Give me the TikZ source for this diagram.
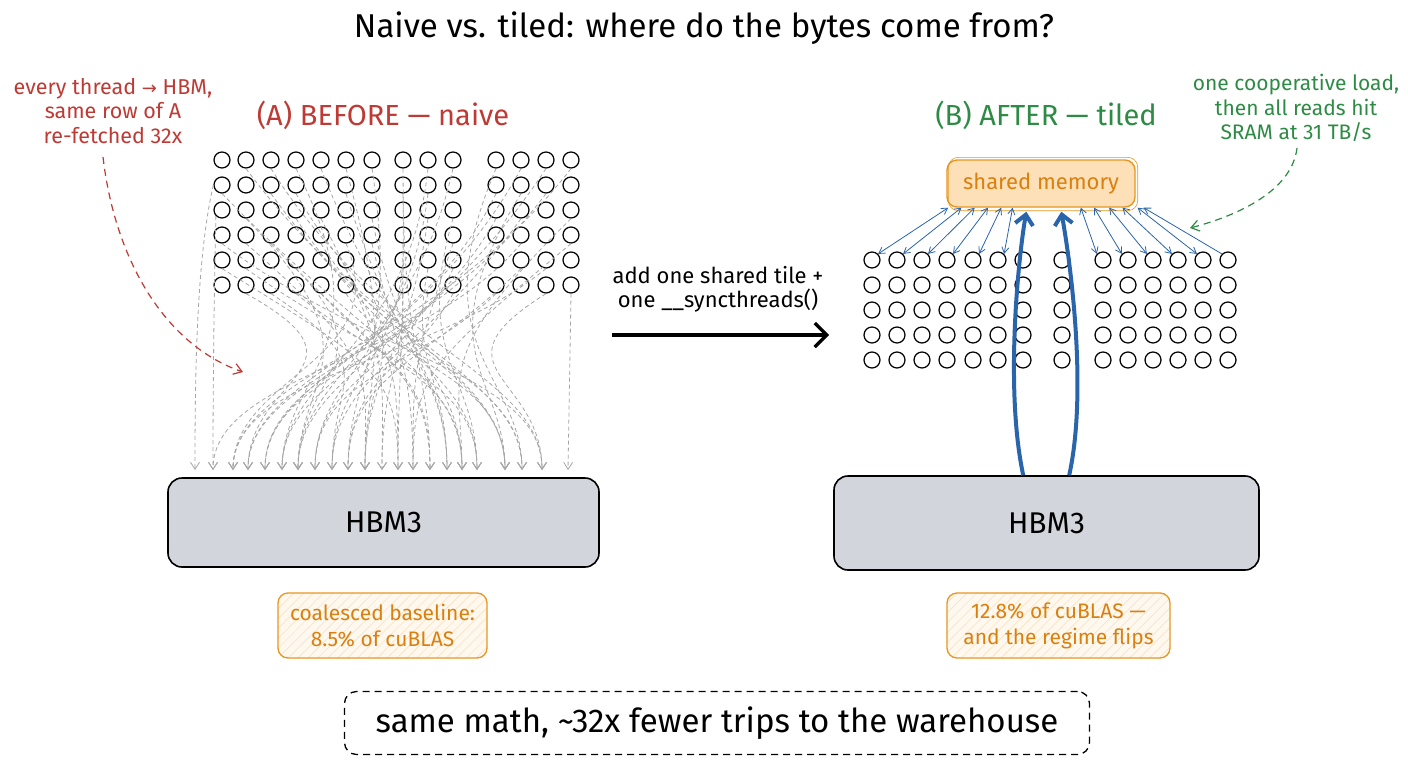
\documentclass[tikz,border=0pt]{standalone}
\usepackage{fontspec}
\setmainfont{Fira Sans}
\newfontfamily\symfont{DejaVu Sans}
\usetikzlibrary{arrows.meta,calc,patterns.meta}
\definecolor{cred}{HTML}{BE3A34}
\definecolor{cgreen}{HTML}{2E8B45}
\definecolor{corange}{HTML}{D9800F}
\definecolor{oline}{HTML}{E8961F}
\definecolor{smfill}{HTML}{FDE0B8}
\definecolor{obfill}{HTML}{FFF8EE}
\definecolor{cblue}{HTML}{2A64AA}
\definecolor{hbmfill}{HTML}{D2D6DC}
\tikzset{
  circ/.style={circle,draw=black,line width=1.25pt,minimum size=16pt,inner sep=0pt,fill=white},
  gdash/.style={draw=gray!70,line width=0.8pt,dash pattern=on 4pt off 3pt,
    -{Straight Barb[length=7pt,width=9pt]}},
  hbm/.style={draw=black,line width=1.6pt,fill=hbmfill,rounded corners=14pt,font=\fontsize{30}{36}\selectfont},
  obox/.style={draw=oline,line width=1.3pt,rounded corners=10pt,preaction={fill=obfill},
    pattern={Lines[angle=45,distance=7pt,line width=0.5pt]},pattern color=oline!30,
    text=corange,align=center,font=\fontsize{21}{26}\selectfont},
  thinblue/.style={draw=cblue,line width=0.8pt,{Straight Barb[length=6pt,width=7pt]}-{Straight Barb[length=6pt,width=7pt]}},
  bigblue/.style={draw=cblue,line width=4pt,-{Straight Barb[length=10pt,width=18pt]}},
}
\begin{document}
\begin{tikzpicture}[x=1pt,y=-1pt]
\useasboundingbox (0,0) rectangle (1408,768);
\fill[white] (0,0) rectangle (1408,768);

% title
\node[font=\fontsize{33}{40}\selectfont] (title) at (704,28) {Naive vs. tiled: where do the bytes come from?};

% left side
\node[text=cred,font=\fontsize{29}{34}\selectfont] (hA) at (383,115) {(A) BEFORE — naive};
\node[text=cred,align=center,font=\fontsize{21.5}{24.5}\selectfont] (ra) at (113,111)
  {every thread {\symfont\fontsize{18}{20}\selectfont →} HBM,\\same row of A\\re-fetched 32x};

\foreach \x [count=\c] in {222,246,271,296,321,346,372,403,428,453,496,521,546,571}
  \foreach \y [count=\r] in {160,185,210,235,260,285}
    \node[circ] (L-\c-\r) at (\x,\y) {};

\foreach \t in {195,213,233,248,265,282,298,315,332,348,365,382,398,413,430,447,462,477,505,522,542,568}
  \coordinate (T\t) at (\t,470);

\foreach \c/\r/\t in {14/1/233,13/2/248,12/1/265,11/3/282,10/1/298,9/2/315,8/4/332,7/1/348,
  6/2/447,5/1/462,4/3/477,3/2/505,2/1/522,1/4/542,
  13/5/233,12/4/213,10/5/265,9/3/365,8/6/382,7/4/413,6/5/398,5/6/430,4/5/298,3/6/332,2/4/365,
  11/6/315,12/5/348,14/4/413,1/2/462,3/4/430,5/3/382,6/6/505,8/1/398,9/5/447,10/3/477,
  11/1/522,13/6/542,4/1/282,2/6/248,7/6/365,12/2/505,2/3/298,
  14/3/462,13/1/298,12/3/332,11/2/248,10/4/413,9/1/282,8/2/430,7/3/447,6/1/365,5/4/522,
  4/2/505,3/1/542,2/5/477,1/5/398,10/6/348,9/6/315,4/6/462,6/4/233,8/5/265}
  \draw[gdash] (L-\c-\r.south) .. controls ($(L-\c-\r.south)!0.85!(405,382)$) and ($(T\t)+(0,-95)$) .. (T\t);
\draw[gdash] (L-1-2.west) .. controls (196,260) and (195,380) .. (T195);
\draw[gdash] (L-1-3.south west) .. controls (214,300) and (213,380) .. (T213);
\draw[gdash] (L-14-6.south) -- (T568);

\coordinate (ra-s) at (103,157);
\coordinate (ra-e) at (243,372);
\draw[cred,line width=1.2pt,dash pattern=on 7pt off 5pt,-{Straight Barb[length=8pt,width=11pt]}]
  (ra-s) .. controls (115,260) and (165,345) .. (ra-e);

\node[hbm,minimum width=431pt,minimum height=89pt] (hbmL) at (383.5,522.5) {HBM3};
\node[obox,minimum width=209pt,minimum height=65pt] (obL) at (382.5,625.5) {coalesced baseline:\\8.5\% of cuBLAS};

% middle
\node[align=center,font=\fontsize{22}{24}\selectfont] (mt) at (718,289) {add one shared tile +\\one \_\_syncthreads()};
\coordinate (ma) at (612,335);
\coordinate (mb) at (829,335);
\draw[line width=3.2pt,-{Straight Barb[length=12pt,width=24pt]}] (ma) -- (mb);

% right side
\node[text=cgreen,font=\fontsize{29}{34}\selectfont] (hB) at (1046,115) {(B) AFTER — tiled};
\node[text=cgreen,align=center,font=\fontsize{21}{24.5}\selectfont] (ga) at (1296,108)
  {one cooperative load,\\then all reads hit\\SRAM at 31 TB/s};
\coordinate (ga-s) at (1297,148);
\coordinate (ga-e) at (1190,228);
\draw[cgreen,line width=1.2pt,dash pattern=on 7pt off 5pt,-{Straight Barb[length=8pt,width=11pt]}]
  (ga-s) .. controls (1292,190) and (1240,215) .. (ga-e);

\node[draw=oline,line width=1.4pt,fill=smfill,rounded corners=10pt,minimum width=188pt,minimum height=47pt,
  text=corange,font=\fontsize{22}{26}\selectfont] (sm) at (1041,183.5) {shared memory};
\draw[oline,line width=0.6pt,rounded corners=10pt] ($(sm.south west)+(2,3)$) rectangle ($(sm.north east)+(2,-2)$);

\foreach \x [count=\c] in {872,897,922,947,973,998,1023,1062,1103,1128,1153,1178,1203,1228}
  \foreach \y [count=\r] in {260,285,310,335,360}
    \node[circ] (R-\c-\r) at (\x,\y) {};

\foreach \f/\c in {0.01/1,0.08/2,0.15/3,0.22/4,0.29/5,0.35/6}
  \draw[thinblue] ($(sm.south west)!\f!(sm.south east)$) -- (R-\c-1.north east);
\foreach \f/\c in {0.71/9,0.78/10,0.86/11,0.93/12,1.01/13}
  \draw[thinblue] ($(sm.south west)!\f!(sm.south east)$) -- (R-\c-1.north west);
\draw[cblue,line width=0.8pt,{Straight Barb[length=6pt,width=7pt]}-] ($(sm.south east)+(8,0)$) -- (R-14-1.north west);

\node[hbm,minimum width=425pt,minimum height=94pt] (hbmR) at (1046.5,523) {HBM3};
\coordinate (up1) at ($(hbmR.north west)+(190,0)$);
\coordinate (up2) at ($(hbmR.north west)+(236,0)$);
\draw[bigblue] (up1) .. controls (1005,390) and (1018,260) .. ($(sm.south west)+(80,4)$);
\draw[bigblue] (up2) .. controls (1088,390) and (1070,260) .. ($(sm.south west)+(115,4)$);

\node[obox,minimum width=223pt,minimum height=65pt] (obR) at (1058.5,625.5) {12.8\% of cuBLAS —\\and the regime flips};

% bottom
\node[draw=black,line width=1.3pt,dash pattern=on 7pt off 5pt,rounded corners=12pt,minimum width=745pt,minimum height=63pt,
  font=\fontsize{33}{40}\selectfont] (bot) at (717,723) {same math, \textasciitilde 32x fewer trips to the warehouse};
\end{tikzpicture}
\end{document}
